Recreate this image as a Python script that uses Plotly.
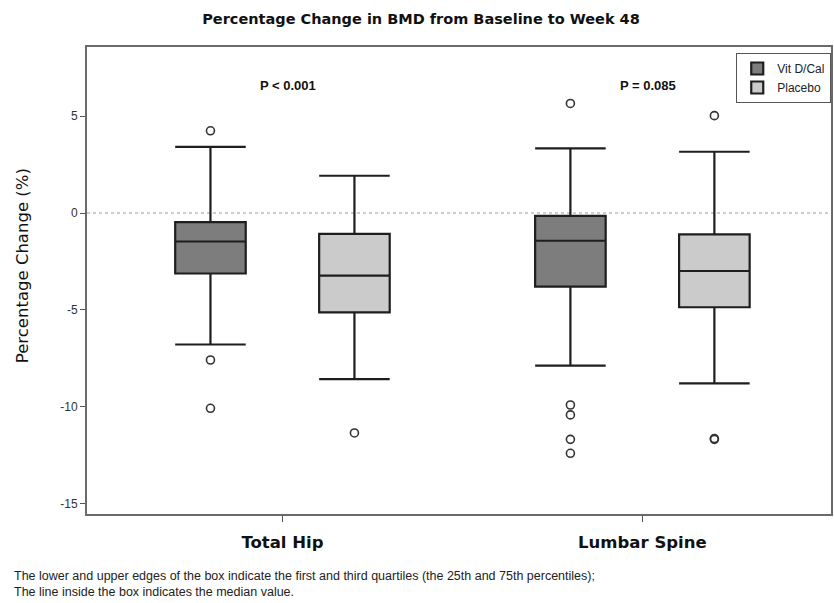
import plotly.graph_objects as go

categories = ["Total Hip", "Lumbar Spine"]

vit_q1 = [-3.12, -3.80]
vit_median = [-1.47, -1.43]
vit_q3 = [-0.47, -0.15]
vit_lower = [-6.78, -7.87]
vit_upper = [3.41, 3.33]
vit_outliers = [[4.24, -7.58, -10.07], [5.65, -9.90, -10.41, -11.67, -12.39]]

plc_q1 = [-5.12, -4.86]
plc_median = [-3.23, -2.99]
plc_q3 = [-1.08, -1.10]
plc_lower = [-8.57, -8.78]
plc_upper = [1.92, 3.16]
plc_outliers = [[-11.34], [5.02, -11.63, -11.67]]

p_labels = ["P < 0.001", "P = 0.085"]

y_ticks = [5, 0, -5, -10, -15]

footnote = ("The lower and upper edges of the box indicate the first and third quartiles "
            "(the 25th and 75th percentiles);<br>The line inside the box indicates the median value.")

OFFSET = 0.2
BOXW = 0.196
LINE = "#1e1e1e"

fig = go.Figure()

groups = [
    ("Vit D/Cal", -OFFSET, "#7d7d7d", vit_q1, vit_median, vit_q3, vit_lower, vit_upper, vit_outliers),
    ("Placebo", OFFSET, "#cbcbcb", plc_q1, plc_median, plc_q3, plc_lower, plc_upper, plc_outliers),
]

for name, off, color, q1, med, q3, lo, hi, outs in groups:
    xs = [i + off for i in range(len(categories))]
    fig.add_trace(go.Box(
        name=name, x=xs, q1=q1, median=med, q3=q3,
        lowerfence=lo, upperfence=hi,
        width=BOXW, whiskerwidth=1, boxpoints=False,
        fillcolor=color, line=dict(color=LINE, width=2.2),
        hoverinfo="skip",
    ))
for name, off, color, q1, med, q3, lo, hi, outs in groups:
    ox, oy = [], []
    for i, vals in enumerate(outs):
        for v in vals:
            ox.append(i + off)
            oy.append(v)
    fig.add_trace(go.Scatter(
        x=ox, y=oy, mode="markers", showlegend=False,
        marker=dict(symbol="circle-open", size=8, color="#333333",
                    line=dict(width=1.6, color="#333333")),
        hoverinfo="skip",
    ))

fig.add_shape(type="line", xref="paper", x0=0, x1=1, yref="y", y0=0, y1=0,
              line=dict(color="#9a9a9a", width=1, dash="dot"), layer="below")

for i, lab in enumerate(p_labels):
    fig.add_annotation(x=i + 0.016, y=6.55, text="<b>" + lab + "</b>", showarrow=False,
                       font=dict(family="Liberation Sans", size=13, color="#111111"),
                       xanchor="center", yanchor="middle")

fig.add_annotation(xref="paper", yref="paper", x=-75 / 746, y=-(584 - 514) / 467,
                   text=footnote, showarrow=False, align="left",
                   xanchor="left", yanchor="middle",
                   font=dict(family="Liberation Sans", size=12.5, color="#222222"))

fig.add_annotation(xref="paper", yref="paper", x=-(87 - 22) / 746, y=(514 - 266) / 467,
                   text="Percentage Change (%)", textangle=-90, showarrow=False,
                   xanchor="center", yanchor="middle",
                   font=dict(family="DejaVu Sans", size=16.5, color="#111111"))

fig.update_layout(
    width=834, height=603,
    margin=dict(l=87, r=1, t=47, b=89),
    paper_bgcolor="white", plot_bgcolor="white",
    boxmode="overlay",
    title=dict(text="<b>Percentage Change in BMD from Baseline to Week 48</b>",
               x=421 / 834, xref="container", xanchor="center",
               y=1 - 19 / 603, yref="container", yanchor="middle",
               font=dict(family="DejaVu Sans", size=14.5, color="#111111")),
    showlegend=True,
    legend=dict(x=(738 - 87) / 746, y=(514 - 53) / 467, xanchor="left", yanchor="top",
                bgcolor="white", bordercolor="#555555", borderwidth=1,
                font=dict(family="Liberation Sans", size=12, color="#222222"),
                tracegroupgap=0, itemwidth=30),
)

fig.update_xaxes(
    range=[-0.543, 1.524], tickmode="array",
    tickvals=list(range(len(categories))),
    ticktext=["<b>" + c + "</b>" for c in categories],
    ticks="outside", ticklen=6, tickcolor="#555555", tickwidth=1,
    ticklabelstandoff=6,
    showline=True, linecolor="#6a6a6a", linewidth=2, mirror=True,
    showgrid=False, zeroline=False,
    tickfont=dict(family="DejaVu Sans", size=16.5, color="#111111"),
)
fig.update_yaxes(
    range=[-15.52, 8.56], tickmode="array", tickvals=y_ticks,
    ticktext=[str(v) if v >= 0 else "-" + str(-v) for v in y_ticks],
    ticks="outside", ticklen=5, tickcolor="#555555", tickwidth=1,
    showline=True, linecolor="#6a6a6a", linewidth=2, mirror=True,
    showgrid=False, zeroline=False,
    tickfont=dict(family="Liberation Sans", size=12, color="#333333"),
)

fig.write_html("out.html")
